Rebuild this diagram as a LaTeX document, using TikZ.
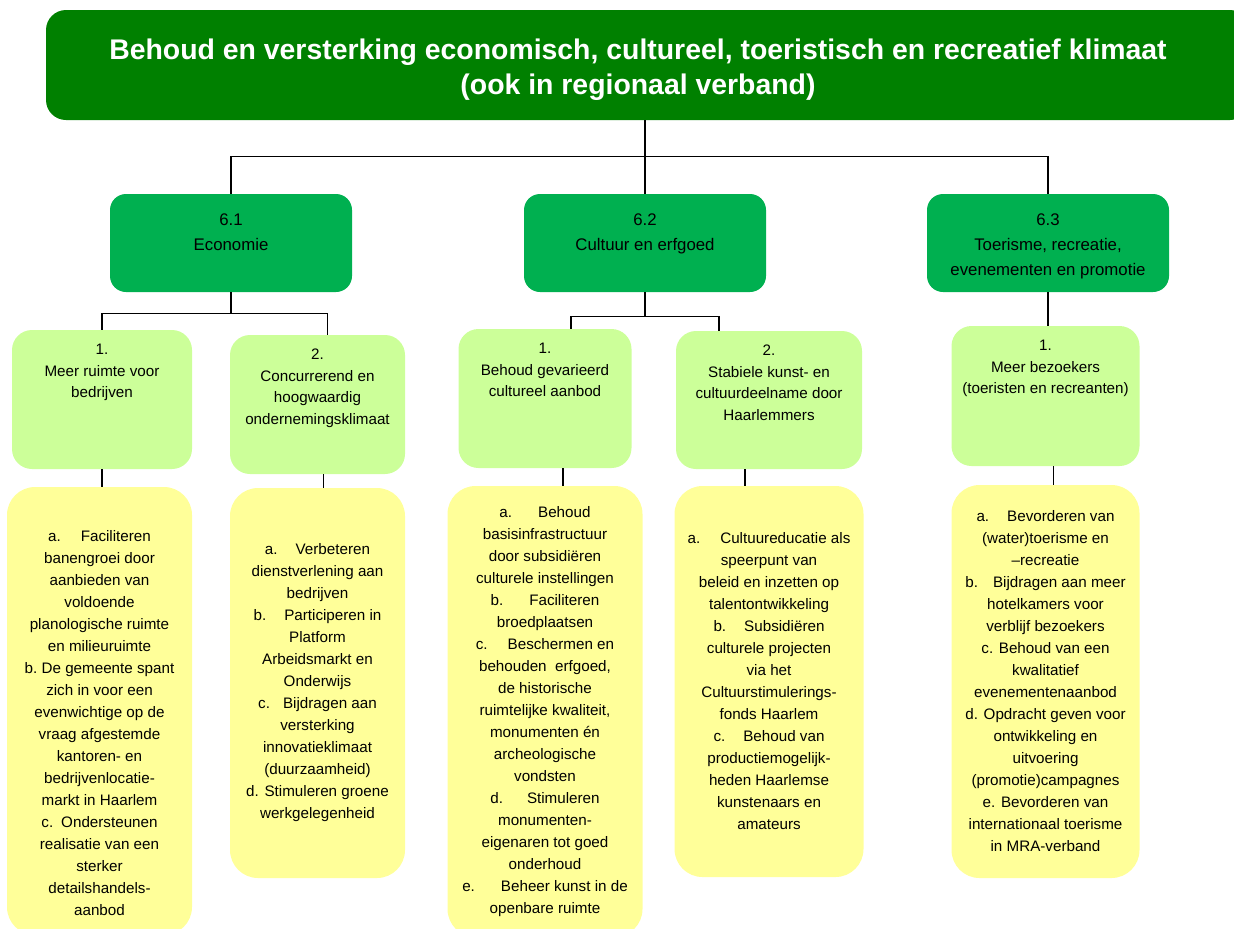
\documentclass[tikz,border=0pt]{standalone}
\usepackage{fontspec}
\setmainfont{Liberation Sans}
\usepackage{xcolor}
\usepackage{tikz}
\usetikzlibrary{calc}

\definecolor{darkgreen}{RGB}{0,128,0}
\definecolor{midgreen}{RGB}{0,176,80}
\definecolor{lightgreen}{RGB}{204,255,153}
\definecolor{lightyellow}{RGB}{255,255,153}

% box text hung from the top: width, height, top gap, text
\newcommand{\topcell}[4]{\parbox[c][#2pt][t]{#1pt}{\centering\vspace*{#3pt}#4}}
\newcommand{\itemgap}{\hspace{9pt}}

\begin{document}
\begin{tikzpicture}[
		x=0.5pt, y=-0.5pt,
		title/.style={
			fill=darkgreen, rounded corners=10pt, text=white, align=center,
			minimum width=602pt, minimum height=55pt,
			font=\fontsize{14.2}{17.5}\selectfont\bfseries
			},
		area/.style={
			fill=midgreen, rounded corners=8pt, inner sep=0pt,
			font=\fontsize{8.4}{12.5}\selectfont
			},
		aim/.style={
			fill=lightgreen, rounded corners=10pt, inner sep=0pt,
			font=\fontsize{7.6}{10.8}\selectfont
			},
		task/.style={
			fill=lightyellow, rounded corners=14pt, align=center,
			font=\fontsize{7.6}{11}\selectfont
			},
		link/.style={
			line width=0.6pt,
			color=black
			}
		]

		\useasboundingbox (0,0) rectangle (1234,928);
		\clip (0,0) rectangle (1234,928);

		\node[title] (goal) at (648,65) {\rule{0pt}{15.2pt}Behoud en versterking economisch, cultureel, toeristisch en recreatief klimaat\hspace*{10pt}\\(ook in regionaal verband)\hspace*{10pt}};

		% themes
		\node[area] (ec) at (231,243) {\topcell{121}{49}{9.7}{6.1\\Economie}};
		\node[area] (cu) at (645,243) {\topcell{121}{49}{9.7}{6.2\\Cultuur en erfgoed}};
		\node[area] (to) at (1048,243) {\topcell{121}{49}{9.7}{6.3\\Toerisme, recreatie,\\evenementen en promotie}};

		% aims
		\node[aim] (ec1) at (102,399.5) {\topcell{90}{69.5}{7}{1.\\Meer ruimte voor\\bedrijven}};
		\node[aim] (ec2) at (317.5,404.5) {\topcell{87.5}{69.5}{7}{2.\\Concurrerend en\\hoogwaardig\\ondernemingsklimaat}};
		\node[aim] (cu1) at (545,398.5) {\topcell{86.5}{69.5}{7}{1.\\Behoud gevarieerd\\cultureel aanbod}};
		\node[aim] (cu2) at (769,400) {\topcell{93}{69}{7}{2.\\Stabiele kunst- en\\cultuurdeelname door\\Haarlemmers}};
		\node[aim] (to1) at (1045.5,396) {\topcell{94}{70}{7}{1.\\Meer bezoekers\\(toeristen en recreanten)}};

		% tasks
		\node[task, minimum width=92.5pt, minimum height=224pt] (ec1t) at (99.5,711) {\rule{0pt}{17.5pt}a.\hspace{10pt}Faciliteren\\banengroei door\\aanbieden van\\voldoende\\planologische ruimte\\en milieuruimte\\b.\ De gemeente spant\\zich in voor een\\evenwichtige op de\\vraag afgestemde\\kantoren- en\\bedrijvenlocatie-\\markt in Haarlem\\c.\hspace{4pt}Ondersteunen\\realisatie van een\\sterker\\detailshandels-\\aanbod};
		\node[task, minimum width=87.5pt, minimum height=195pt] (ec2t) at (317.5,683) {a.\itemgap Verbeteren\\dienstverlening aan\\bedrijven\\b.\itemgap Participeren in\\Platform\\Arbeidsmarkt en\\Onderwijs\\c.\hspace{6.5pt}Bijdragen aan\\versterking\\innovatieklimaat\\(duurzaamheid)\\d. Stimuleren groene\\werkgelegenheid};
		\node[task, minimum width=97.5pt, minimum height=225.5pt] (cu1t) at (545,711.5) {a.\hspace{13pt}Behoud\\basisinfrastructuur\\door subsidi\"eren\\culturele instellingen\\b.\hspace{13pt}Faciliteren\\broedplaatsen\\c.\hspace{10pt}Beschermen en\\behouden\ \ erfgoed,\\de historische\\ruimtelijke kwaliteit,\\monumenten \'en\\archeologische\\vondsten\\d.\hspace{12pt}Stimuleren\\monumenten-\\eigenaren tot goed\\onderhoud\\e.\hspace{13pt}Beheer kunst in de\\openbare ruimte};
		\node[task, minimum width=94.5pt, minimum height=195.5pt] (cu2t) at (769,681.5) {a.\hspace{10pt}Cultuureducatie als\\speerpunt van\\beleid en inzetten op\\talentontwikkeling\\b.\itemgap Subsidi\"eren\\culturele projecten\\via het\\Cultuurstimulerings-\\fonds Haarlem\\c.\itemgap Behoud van\\productiemogelijk-\\heden Haarlemse\\kunstenaars en\\amateurs};
		\node[task, minimum width=94pt, minimum height=196.5pt] (to1t) at (1045.5,681.5) {a.\itemgap Bevorderen van\\(water)toerisme en\\--recreatie\\b.\hspace{7.5pt}Bijdragen aan meer\\hotelkamers voor\\verblijf bezoekers\\c. Behoud van een\\kwalitatief\\evenementenaanbod\\d. Opdracht geven voor\\ontwikkeling en\\uitvoering\\(promotie)campagnes\\e. Bevorderen van\\internationaal toerisme\\in MRA-verband};

		% connectors
		\draw[link] (goal.south -| cu.north) -- (cu.north);
		\draw[link] (ec.north) -- ++(0,-37) -| (to.north);

		\draw[link] (ec.south) -- ++(0,21) coordinate (ecbus);
		\draw[link] (ec1.north) |- (ecbus) -| ([xshift=5pt]ec2.north);
		\draw[link] (cu.south) -- ++(0,24) coordinate (cubus);
		\draw[link] ([xshift=13pt]cu1.north) |- (cubus) -| ([xshift=-25pt]cu2.north);
		\draw[link] (to.south) -- (to.south |- to1.north);

		\draw[link] (ec1.south) -- (ec1.south |- ec1t.north);
		\draw[link] ([xshift=3pt]ec2.south) -- ([xshift=3pt]ec2t.north);
		\draw[link] ([xshift=9pt]cu1.south) -- ([xshift=9pt]cu1t.north);
		\draw[link] ([xshift=-12pt]cu2.south) -- ([xshift=-12pt]cu2t.north);
		\draw[link] ([xshift=4pt]to1.south) -- ([xshift=4pt]to1t.north);

	\end{tikzpicture}
\end{document}
